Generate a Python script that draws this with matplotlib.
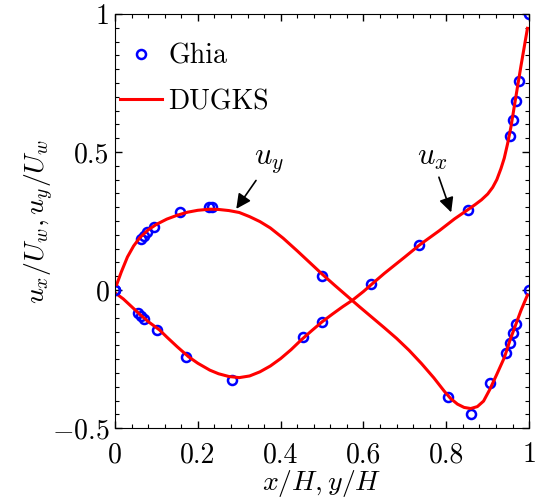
import numpy as np
import matplotlib
matplotlib.use("Agg")
import matplotlib.pyplot as plt
from matplotlib.ticker import MultipleLocator

plt.rcParams['font.family'] = ['cmr10', 'DejaVu Serif']
plt.rcParams['mathtext.fontset'] = 'cm'
plt.rcParams['axes.formatter.use_mathtext'] = True
plt.rcParams['axes.unicode_minus'] = True

# Ghia et al. reference data (Re = 400)
ghia_y = [1.0000, 0.9766, 0.9688, 0.9609, 0.9531, 0.8516, 0.7344, 0.6172,
          0.5000, 0.4531, 0.2813, 0.1719, 0.1016, 0.0703, 0.0625, 0.0547, 0.0000]
ghia_ux = [1.0, 0.75837, 0.68439, 0.61756, 0.55892, 0.29093, 0.16256, 0.02135,
           -0.11477, -0.17119, -0.32726, -0.24299, -0.14612, -0.10338, -0.09266, -0.08186, 0.0]
ghia_x = [1.0000, 0.9688, 0.9609, 0.9531, 0.9453, 0.9063, 0.8594, 0.8047,
          0.5000, 0.2344, 0.2266, 0.1563, 0.0938, 0.0781, 0.0703, 0.0625, 0.0000]
ghia_uy = [0.0, -0.12146, -0.15663, -0.19254, -0.22847, -0.33827, -0.44993, -0.38598,
           0.05186, 0.30174, 0.30203, 0.28124, 0.22965, 0.20920, 0.19713, 0.18360, 0.0]

# DUGKS profiles
dugks_y = [0.002, 0.02, 0.04, 0.06, 0.08, 0.108, 0.125, 0.15, 0.178, 0.2, 0.229,
           0.25, 0.275, 0.30, 0.325, 0.35, 0.375, 0.40, 0.425, 0.45, 0.475,
           0.50, 0.525, 0.55, 0.574, 0.60, 0.619, 0.65, 0.70, 0.735, 0.783,
           0.82, 0.851, 0.87, 0.885, 0.90, 0.912, 0.922, 0.932, 0.94, 0.948,
           0.956, 0.968, 0.98, 0.996]
dugks_ux = [-0.012, -0.032, -0.06, -0.088, -0.114, -0.145, -0.17, -0.205, -0.242, -0.265, -0.29,
            -0.303, -0.313, -0.317, -0.311, -0.296, -0.275, -0.248, -0.216, -0.18, -0.147,
            -0.115, -0.087, -0.06, -0.036, -0.005, 0.02, 0.06, 0.12, 0.163, 0.215,
            0.258, 0.29, 0.31, 0.327, 0.348, 0.372, 0.40, 0.44, 0.478, 0.53,
            0.59, 0.70, 0.809, 0.948]
dugks_x = [0.004, 0.015, 0.03, 0.045, 0.06, 0.08, 0.10, 0.125, 0.15, 0.175, 0.20,
           0.229, 0.25, 0.275, 0.30, 0.325, 0.35, 0.375, 0.406, 0.44, 0.47,
           0.50, 0.53, 0.56, 0.59, 0.62, 0.65, 0.68, 0.71, 0.74, 0.77,
           0.795, 0.81, 0.827, 0.843, 0.859, 0.875, 0.89, 0.905, 0.922, 0.94,
           0.954, 0.968, 0.98, 0.996]
dugks_uy = [0.02, 0.065, 0.12, 0.16, 0.19, 0.218, 0.238, 0.257, 0.271, 0.282, 0.289,
            0.293, 0.292, 0.288, 0.281, 0.266, 0.248, 0.225, 0.188, 0.142, 0.10,
            0.058, 0.018, -0.021, -0.06, -0.098, -0.136, -0.175, -0.218, -0.266, -0.318,
            -0.366, -0.392, -0.413, -0.425, -0.429, -0.422, -0.402, -0.36, -0.305, -0.245,
            -0.181, -0.124, -0.075, -0.018]

fig = plt.figure(figsize=(5.35, 4.99), dpi=100)
ax = fig.add_axes([0.215, 0.142, 0.774, 0.830])

ax.plot(ghia_y, ghia_ux, 'o', mfc='none', mec='blue', ms=6.5, mew=1.8, label='Ghia')
ax.plot(dugks_y, dugks_ux, '-', color='red', lw=2.2, label='DUGKS')
ax.plot(ghia_x, ghia_uy, 'o', mfc='none', mec='blue', ms=6.5, mew=1.8)
ax.plot(dugks_x, dugks_uy, '-', color='red', lw=2.2)

ax.set_xlim(0, 1)
ax.set_ylim(-0.5, 1)
ax.set_xticks([0, 0.2, 0.4, 0.6, 0.8, 1])
ax.set_xticklabels(['0', '0.2', '0.4', '0.6', '0.8', '1'])
ax.set_yticks([-0.5, 0, 0.5, 1])
ax.set_yticklabels([r'$-0.5$', '0', '0.5', '1'])
ax.xaxis.set_minor_locator(MultipleLocator(0.04))
ax.yaxis.set_minor_locator(MultipleLocator(0.05))
ax.tick_params(which='both', direction='in', top=True, right=True, labelsize=20)
ax.tick_params(which='major', length=5, width=1)
ax.tick_params(which='minor', length=3, width=0.8)
ax.tick_params(axis='x', pad=10)
ax.tick_params(axis='y', pad=4)

ax.set_xlabel(r'$x/H, y/H$', fontsize=20, labelpad=0)
ax.set_ylabel(r'$u_x/U_w, u_y/U_w$', fontsize=20, labelpad=-3)

ax.annotate(r'$u_y$', xy=(0.289, 0.286), xytext=(0.372, 0.465), fontsize=22,
            ha='center', va='center',
            arrowprops=dict(arrowstyle='-|>', color='black', lw=1.2, shrinkA=2))
ax.annotate(r'$u_x$', xy=(0.814, 0.272), xytext=(0.766, 0.478), fontsize=22,
            ha='center', va='center',
            arrowprops=dict(arrowstyle='-|>', color='black', lw=1.2, shrinkA=2))

ax.legend(loc='upper left', bbox_to_anchor=(0.012, 0.93), frameon=False,
          fontsize=20, handlelength=1.5, handletextpad=0.25, borderaxespad=0.0,
          borderpad=0.0, labelspacing=0.7)

fig.savefig('out.png', dpi=100)
